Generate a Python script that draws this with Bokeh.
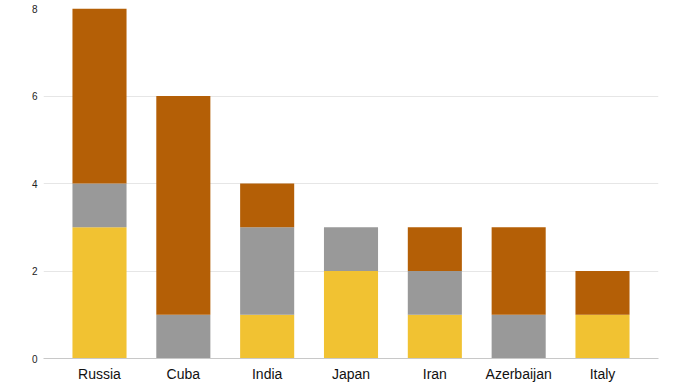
from bokeh.plotting import figure
from bokeh.models import FactorRange, Range1d, ColumnDataSource, FixedTicker
from bokeh.embed import file_html
from bokeh.resources import INLINE

countries = ["Russia", "Cuba", "India", "Japan", "Iran", "Azerbaijan", "Italy"]
gold = [3, 0, 1, 2, 1, 0, 1]
silver = [1, 1, 2, 1, 1, 1, 0]
bronze = [4, 5, 1, 0, 1, 2, 1]
medals = ["gold", "silver", "bronze"]
colors = ["#f1c232", "#999999", "#b45f06"]

source = ColumnDataSource(dict(country=countries, gold=gold, silver=silver, bronze=bronze))

p = figure(
    x_range=FactorRange(*countries, range_padding=0.048, range_padding_units="percent"),
    y_range=Range1d(0, 8),
    frame_width=615, frame_height=350,
    output_backend="svg", toolbar_location=None,
    min_border_left=43, min_border_right=14, min_border_top=8, min_border_bottom=0,
)
p.vbar_stack(medals, x="country", width=0.645, color=colors, line_color=None, source=source)

p.outline_line_color = None
p.xgrid.grid_line_color = None
p.ygrid.grid_line_color = "#e6e6e6"
p.yaxis.ticker = FixedTicker(ticks=[0, 2, 4, 6, 8])
p.yaxis.axis_line_color = None
p.yaxis.major_tick_line_color = None
p.yaxis.minor_tick_line_color = None
p.yaxis.major_tick_out = 0
p.yaxis.major_tick_in = 0
p.yaxis.major_label_text_font = "Liberation Sans"
p.yaxis.major_label_text_font_size = "10px"
p.yaxis.major_label_text_color = "#222222"
p.yaxis.major_label_standoff = 6

p.xaxis.axis_line_color = "#c8c8c8"
p.xaxis.major_tick_line_color = None
p.xaxis.minor_tick_line_color = None
p.xaxis.major_tick_out = 0
p.xaxis.major_tick_in = 0
p.xaxis.major_label_text_font = "Liberation Sans"
p.xaxis.major_label_text_font_size = "14px"
p.xaxis.major_label_text_color = "#111111"
p.xaxis.major_label_standoff = 7

open("out.html", "w").write(file_html(p, INLINE))
